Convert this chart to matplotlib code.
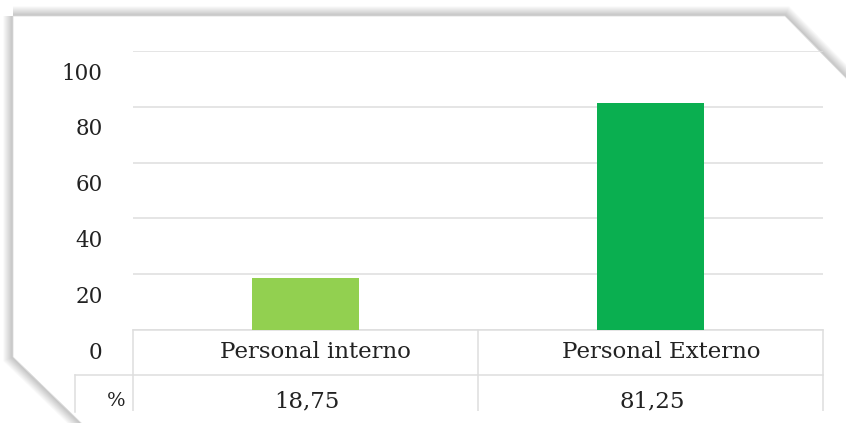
import matplotlib.pyplot as plt
from matplotlib.patches import Polygon, Rectangle
from matplotlib.transforms import ScaledTranslation, blended_transform_factory

# datos del grafico
categorias = ["Personal interno", "Personal Externo"]
porcentajes = [18.75, 81.25]
colores = ["#92D050", "#0AAF50"]
marcas_y = [0, 20, 40, 60, 80, 100]
etiqueta_fila = "%"

W, H = 846, 423
fig = plt.figure(figsize=(W / 100, H / 100), dpi=100)
fig.patch.set_facecolor("white")
plt.rcParams["font.family"] = ["DejaVu Serif"]


def px(x, y):
    # pixeles de la imagen -> coordenadas de figura
    return (x / W, 1 - y / H)


# marco con esquinas cortadas y sombra (detras de los ejes)
marco = [px(13, 16), px(785, 16), px(900, 133), px(900, 480), px(140, 480), px(13, 357)]
for i in range(10, 0, -1):
    fig.patches.append(Polygon(marco, closed=True, transform=fig.transFigure,
                               facecolor="none", edgecolor="#000000",
                               linewidth=i * 1.4, alpha=0.022, joinstyle="miter", zorder=-3))
fig.patches.append(Polygon(marco, closed=True, transform=fig.transFigure,
                           facecolor="white", edgecolor="#dcdcdc", linewidth=0.6, zorder=-2))

# area del grafico
x0, x1 = 133, 823
y_cero, y_cien = 330, 51
ax = fig.add_axes([x0 / W, 1 - y_cero / H, (x1 - x0) / W, (y_cero - y_cien) / H])
ax.set_facecolor("none")

pos = range(len(categorias))
ax.bar(pos, porcentajes, width=0.31, color=colores, zorder=3)
ax.set_xlim(-0.5, len(categorias) - 0.5)
ax.set_ylim(0, 100)
ax.set_yticks(marcas_y)
ax.set_yticklabels([str(m) for m in marcas_y], fontsize=15.5, color="#222222")
ax.tick_params(axis="y", length=0, pad=22)
ax.set_xticks([])
ax.grid(axis="y", color="#dedede", linewidth=1.1, zorder=0)
for s in ax.spines.values():
    s.set_visible(False)
for lab in ax.get_yticklabels():
    lab.set_transform(lab.get_transform() + ScaledTranslation(0, -0.2, fig.dpi_scale_trans))

# tabla de datos bajo el grafico
tr = blended_transform_factory(ax.transData, ax.transAxes)
alto = y_cero - y_cien
fila1 = -(375 - y_cero) / alto
fondo = -(412 - y_cero) / alto
y_cat = -(352 - y_cero) / alto
y_val = -(401 - y_cero) / alto
izq = -0.5 - (x0 - 75) / ((x1 - x0) / len(categorias))
linea = dict(color="#dedede", linewidth=1.1, transform=tr, clip_on=False)
ax.plot([-0.5, len(categorias) - 0.5], [0, 0], **linea)
ax.plot([izq, len(categorias) - 0.5], [fila1, fila1], **linea)
for xb in [k - 0.5 for k in range(len(categorias) + 1)]:
    ax.plot([xb, xb], [0, fondo], **linea)
ax.plot([izq, izq], [fila1, fondo], **linea)

for i, (cat, val) in enumerate(zip(categorias, porcentajes)):
    ax.text(i + 0.03, y_cat, cat, transform=tr, ha="center", va="center",
            fontsize=16.5, color="#222222", clip_on=False)
    ax.text(i + 0.005, y_val, f"{val:.2f}".replace(".", ","), transform=tr,
            ha="center", va="center", fontsize=16.5, color="#222222", clip_on=False)
ax.text(-0.5 - 8 / 345, y_val, etiqueta_fila, transform=tr, ha="right",
        va="center", fontsize=14, color="#222222", clip_on=False)

# recorte inferior de la captura
fig.patches.append(Rectangle(px(86, 423), (W - 86) / W, 12 / H, transform=fig.transFigure,
                             facecolor="white", edgecolor="none", zorder=10))

fig.savefig("out.png", dpi=100)
